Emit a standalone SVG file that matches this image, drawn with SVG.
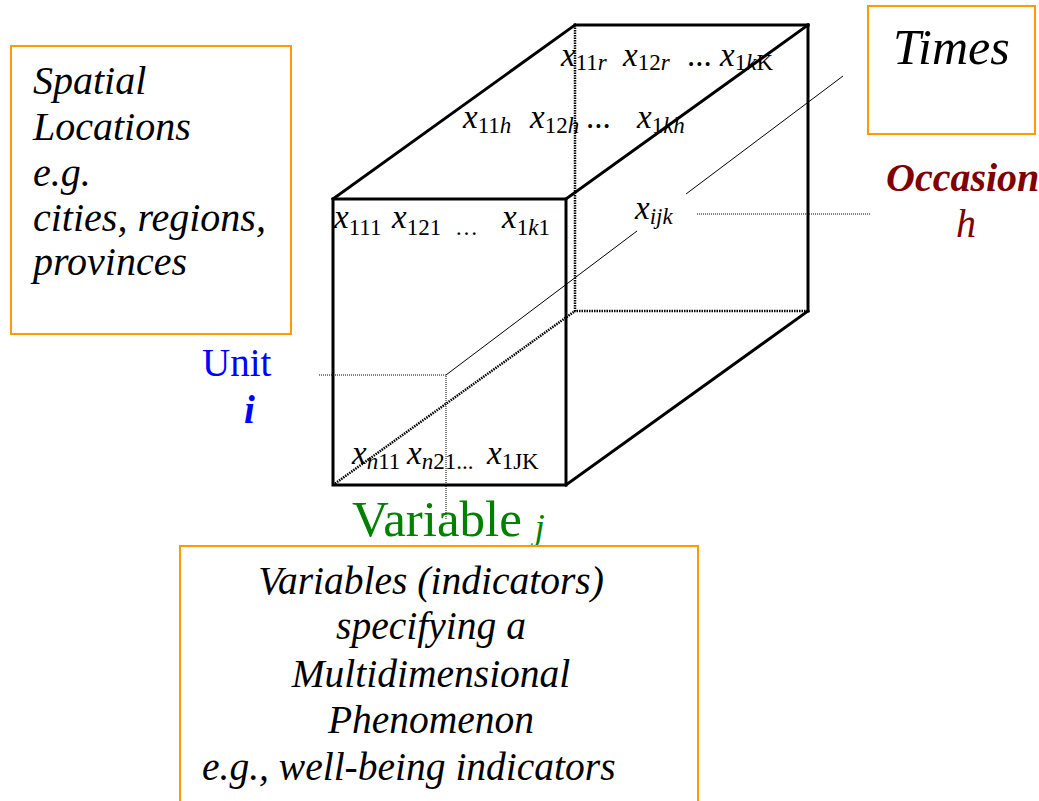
<svg xmlns="http://www.w3.org/2000/svg" width="1039" height="801" viewBox="0 0 1039 801">
<g id="connectors" fill="none" stroke="#000">
<g stroke-width="2.5" stroke-dasharray="1.5 1">
<polyline points="575,25 575,311 808,311"/>
<line x1="333" y1="485" x2="575" y2="311"/>
</g>
<g stroke-width="3" stroke-linecap="square">
<rect x="333" y="199" width="233" height="286"/>
<line x1="333" y1="199" x2="575" y2="25"/>
<line x1="575" y1="25" x2="808" y2="25"/>
<line x1="566" y1="199" x2="808" y2="25"/>
<line x1="808" y1="25" x2="808" y2="311"/>
<line x1="566" y1="485" x2="808" y2="311"/>
</g>
<g stroke-width="1">
<line x1="446" y1="375" x2="637" y2="231"/>
<line x1="686" y1="194" x2="843" y2="76"/>
</g>
<g stroke-width="1" stroke-dasharray="1 1">
<polyline points="319,375 446,375 446,520"/>
<line x1="697" y1="214" x2="870" y2="214"/>
</g>
</g>
<g id="cells" font-family="Liberation Serif" font-size="33" fill="#000">
<text y="66"><tspan x="561" font-style="italic">x</tspan><tspan font-size="23" dy="4">11</tspan><tspan font-size="23" font-style="italic">r</tspan><tspan x="623" dy="-4" font-style="italic">x</tspan><tspan font-size="23" dy="4">12</tspan><tspan font-size="23" font-style="italic">r</tspan><tspan x="687" dy="-4">...</tspan><tspan x="720" font-style="italic">x</tspan><tspan font-size="23" dy="4">1</tspan><tspan font-size="23" font-style="italic">k</tspan><tspan font-size="23">K</tspan></text>
<text y="128"><tspan x="463" font-style="italic">x</tspan><tspan font-size="23" dy="5">11</tspan><tspan font-size="23" font-style="italic">h</tspan><tspan x="530" dy="-5" font-style="italic">x</tspan><tspan font-size="23" dy="5">12</tspan><tspan font-size="23" font-style="italic">h</tspan><tspan x="586" dy="-5">...</tspan><tspan x="637" font-style="italic">x</tspan><tspan font-size="23" dy="5">1</tspan><tspan font-size="23" font-style="italic">kh</tspan></text>
<text y="228"><tspan x="334" font-style="italic">x</tspan><tspan font-size="23" dy="7">111</tspan><tspan x="392" dy="-7" font-style="italic">x</tspan><tspan font-size="23" dy="7">121</tspan><tspan x="455" font-size="23">…</tspan><tspan x="502" dy="-7" font-style="italic">x</tspan><tspan font-size="23" dy="7">1</tspan><tspan font-size="23" font-style="italic">k</tspan><tspan font-size="23">1</tspan></text>
<text y="219"><tspan x="635" font-style="italic">x</tspan><tspan font-size="23" font-style="italic" dy="5">ijk</tspan></text>
<text y="464"><tspan x="352" font-style="italic">x</tspan><tspan font-size="23" font-style="italic" dy="5">n</tspan><tspan font-size="23">11</tspan><tspan x="407" dy="-5" font-style="italic">x</tspan><tspan font-size="23" font-style="italic" dy="5">n</tspan><tspan font-size="23">21...</tspan><tspan x="487" dy="-5" font-style="italic">x</tspan><tspan font-size="23" dy="5">1JK</tspan></text>
</g>
<g id="spatial" font-family="Liberation Serif" font-style="italic" font-size="40" fill="#000">
<rect x="11" y="46" width="280" height="288" fill="none" stroke="#FF9A00" stroke-width="2"/>
<text x="33" y="94">Spatial</text>
<text x="33" y="140">Locations</text>
<text x="33" y="186">e.g.</text>
<text x="33" y="231">cities, regions,</text>
<text x="33" y="275">provinces</text>
</g>
<g id="times" font-family="Liberation Serif" font-style="italic" fill="#000">
<rect x="868" y="6" width="167" height="128" fill="none" stroke="#FF9A00" stroke-width="2"/>
<text x="893" y="64" font-size="50">Times</text>
</g>
<g id="occasion" font-family="Liberation Serif" font-style="italic" font-size="40" fill="#800000">
<text x="886" y="191" font-weight="bold">Occasion</text>
<text x="956" y="237">h</text>
</g>
<g id="unit" font-family="Liberation Serif" font-size="39" fill="#0000FF">
<text x="202" y="376">Unit</text>
<text x="244" y="423" font-style="italic" font-weight="bold">i</text>
</g>
<g id="variable" font-family="Liberation Serif" fill="#008000">
<text x="352" y="536" font-size="51">Variable <tspan font-style="italic" font-size="36" dy="3">j</tspan></text>
</g>
<g id="variables-box" font-family="Liberation Serif" font-style="italic" font-size="39.5" fill="#000">
<rect x="180" y="546" width="518" height="270" fill="none" stroke="#FF9A00" stroke-width="2"/>
<text x="431" y="594" text-anchor="middle">Variables (indicators)</text>
<text x="431" y="639" text-anchor="middle">specifying a</text>
<text x="431" y="687" text-anchor="middle">Multidimensional</text>
<text x="431" y="733" text-anchor="middle">Phenomenon</text>
<text x="202" y="780">e.g., well-being indicators</text>
</g>
</svg>
